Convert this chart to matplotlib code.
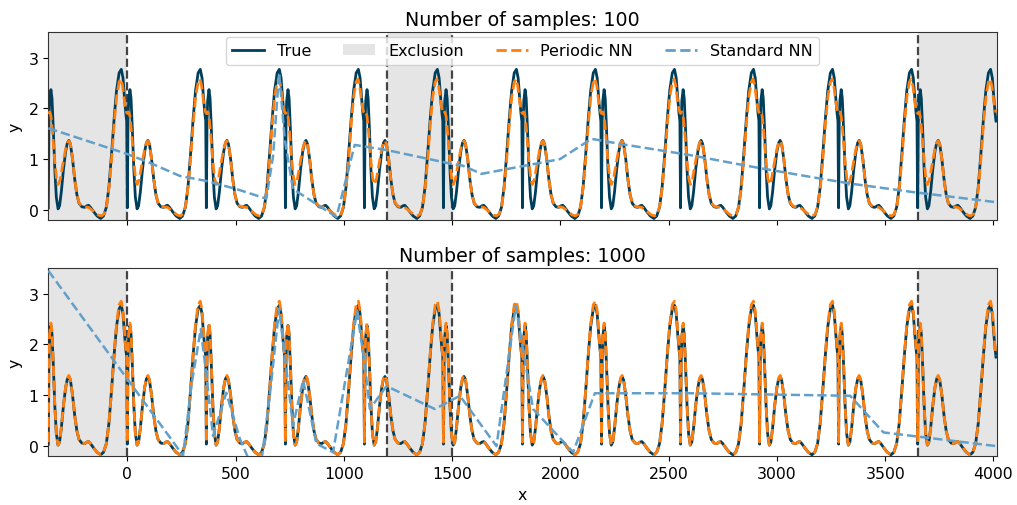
import matplotlib
matplotlib.use("Agg")
import matplotlib.pyplot as plt
from matplotlib.lines import Line2D
from matplotlib.patches import Patch
import numpy as np

# notches of the true curve sit on multiples of 365
period_starts = [-365, 0, 365, 730, 1095, 1460, 1825, 2190, 2555, 2920, 3285, 3650]

# one period of the true curve (phase -> y)
true_phase = [0, 3, 6, 12, 17, 23, 30, 37, 45, 52, 60, 70, 80, 88, 95, 102, 112, 122, 132, 142,
              155, 168, 178, 186, 195, 210, 225, 242, 255, 268, 280, 292, 304, 315, 327, 337, 345,
              352, 358, 362]
true_y = [0.04, 1.7, 2.15, 2.37, 2.2, 1.6, 0.8, 0.25, 0.02, 0.08, 0.35, 0.8, 1.15, 1.32, 1.37, 1.3,
          1.0, 0.6, 0.3, 0.13, 0.06, 0.05, 0.08, 0.09, 0.05, -0.04, -0.12, -0.17, -0.12, 0.05, 0.45,
          1.1, 1.8, 2.35, 2.7, 2.77, 2.6, 2.2, 1.9, 1.75]

# periodic NN, 100 samples (smooth, misses the notch)
nn100_phase = [0, 6, 12, 20, 30, 38, 45, 55, 68, 80, 88, 95, 102, 112, 122, 132, 142, 155, 168,
               186, 210, 230, 245, 258, 270, 282, 294, 305, 316, 327, 335, 343, 350, 356, 362]
nn100_y = [1.9, 1.93, 1.85, 1.5, 0.95, 0.62, 0.5, 0.6, 0.92, 1.2, 1.32, 1.36, 1.3, 1.0, 0.6, 0.3,
           0.14, 0.07, 0.06, 0.05, -0.03, -0.1, -0.12, -0.08, 0.1, 0.5, 1.1, 1.75, 2.25, 2.52, 2.58,
           2.45, 2.2, 2.02, 1.92]

# periodic NN, 1000 samples (almost on top of the true curve)
nn1000_y = [0.08, 1.75, 2.2, 2.42, 2.25, 1.62, 0.8, 0.25, 0.02, 0.08, 0.35, 0.8, 1.16, 1.34, 1.39,
            1.31, 1.0, 0.6, 0.3, 0.13, 0.06, 0.05, 0.08, 0.09, 0.05, -0.04, -0.12, -0.17, -0.12,
            0.05, 0.45, 1.1, 1.82, 2.4, 2.78, 2.85, 2.66, 2.25, 1.92, 1.78]

# standard NN
std100_x = [-365, 0, 103, 242, 365, 504, 642, 673, 701, 727, 765, 966, 1050, 1197, 1505, 1550,
            1636, 1998, 2144, 2276, 2599, 2860, 3168, 3353, 3630, 4015]
std100_y = [1.61, 1.1, 0.93, 0.67, 0.57, 0.41, 0.22, 1.06, 2.7, 1.39, 0.41, -0.14, 1.28, 1.18, 0.9,
            0.87, 0.71, 1.0, 1.4, 1.3, 1.08, 0.87, 0.64, 0.51, 0.35, 0.15]
std1000_x = [-365, 226, 257, 296, 339, 365, 396, 457, 519, 565, 619, 658, 701, 735, 765, 812, 873,
             950, 1061, 1097, 1120, 1197, 1420, 1536, 1705, 1794, 1874, 2059, 2159, 2599, 3338,
             3492, 4015]
std1000_y = [3.45, 0.0, -0.2, 1.2, 2.3, 1.4, 0.2, 1.05, 0.15, -0.3, -0.3, 1.0, 2.7, 1.5, 0.4, 1.3,
             0.05, -0.12, 2.65, 1.6, 0.73, 1.18, 0.73, 0.99, 0.0, 2.75, 0.73, -0.12, 1.04, 1.04,
             0.99, 0.27, 0.0]

exclusion = [(-365, 0), (1200, 1500), (3650, 4015)]
sample_counts = [100, 1000]


def tile(phase, vals):
    xs = np.concatenate([s + np.array(phase, dtype=float) for s in period_starts])
    ys = np.concatenate([np.array(vals, dtype=float) for s in period_starts])
    return xs, ys


true_x, true_yy = tile(true_phase, true_y)
nn100_x, nn100_yy = tile(nn100_phase, nn100_y)
nn1000_x, nn1000_yy = tile(true_phase, nn1000_y)

navy = "#003f5c"
orange = "#ff7f0e"
blue = "#62a0ca"

plt.rcParams["font.family"] = "DejaVu Sans"
fig = plt.figure(figsize=(10.17, 5.06), dpi=100)
ax1 = fig.add_axes([0.0475, 0.5632, 0.9325, 0.371])
ax2 = fig.add_axes([0.0475, 0.0962, 0.9325, 0.372], sharex=ax1)

nn_curves = [(nn100_x, nn100_yy, std100_x, std100_y), (nn1000_x, nn1000_yy, std1000_x, std1000_y)]
for ax, n, (px, py, sx, sy) in zip([ax1, ax2], sample_counts, nn_curves):
    for a, b in exclusion:
        ax.axvspan(a, b, color="gray", alpha=0.2, lw=0, zorder=0)
    for v in [0, 1200, 1500, 3650]:
        ax.axvline(v, color="#444444", ls="--", lw=1.6, zorder=1)
    ax.plot(true_x, true_yy, color=navy, lw=2, zorder=2)
    ax.plot(px, py, color=orange, ls="--", lw=2, zorder=3)
    ax.plot(sx, sy, color=blue, ls="--", lw=1.8, zorder=4)
    ax.set_xlim(-365, 4015)
    ax.set_ylim(-0.2, 3.5)
    ax.set_yticks([0, 1, 2, 3])
    ax.set_ylabel("y", fontsize=11.3)
    ax.set_title(f"Number of samples: {n}", fontsize=13.7, pad=5)
    ax.tick_params(labelsize=11.3)
    for sp in ax.spines.values():
        sp.set_color("#333333")

ax1.tick_params(labelbottom=False)
ax2.set_xticks([0, 500, 1000, 1500, 2000, 2500, 3000, 3500, 4000])
ax2.set_xlabel("x", fontsize=11.3)

handles = [Line2D([], [], color=navy, lw=2),
           Patch(color="gray", alpha=0.2, lw=0),
           Line2D([], [], color=orange, ls="--", lw=2),
           Line2D([], [], color=blue, ls="--", lw=2)]
ax1.legend(handles, ["True", "Exclusion", "Periodic NN", "Standard NN"], ncol=4,
           loc="upper center", fontsize=11.5, borderaxespad=0.3)

fig.savefig("out.png", dpi=100)
